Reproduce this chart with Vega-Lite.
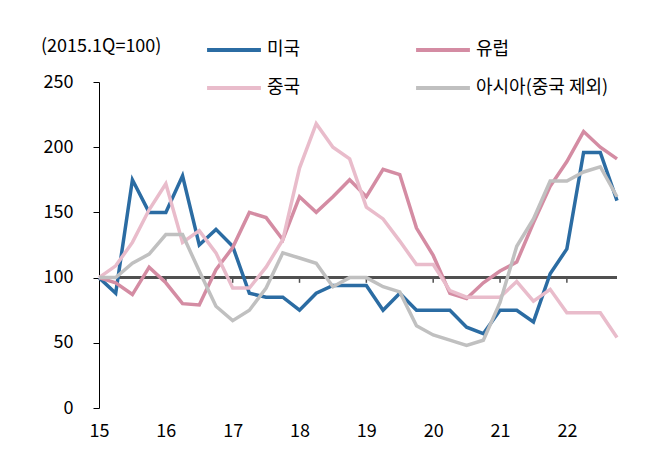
{
  "$schema": "https://vega.github.io/schema/vega-lite/v6.json",
  "width": 518,
  "height": 326,
  "autosize": {"type": "none"},
  "padding": {"left": 99, "top": 82, "right": 31, "bottom": 63},
  "background": "white",
  "config": {
    "font": "Noto Sans CJK KR",
    "view": {"stroke": null},
    "axis": {"labelColor": "#000", "labelFontSize": 18, "grid": false, "labelFont": "Noto Sans CJK KR"}
  },
  "title": {
    "text": "(2015.1Q=100)",
    "anchor": "start",
    "frame": "group",
    "dx": -58,
    "dy": 59,
    "offset": 24,
    "fontSize": 18,
    "fontWeight": "normal",
    "color": "#000",
    "font": "Noto Sans CJK KR"
  },
  "data": {
    "values": [
      {"t": 15.00, "미국": 100, "유럽": 100, "중국": 100, "아시아(중국 제외)": 100},
      {"t": 15.25, "미국": 88, "유럽": 96, "중국": 109, "아시아(중국 제외)": 100},
      {"t": 15.50, "미국": 175, "유럽": 87, "중국": 127, "아시아(중국 제외)": 111},
      {"t": 15.75, "미국": 150, "유럽": 108, "중국": 152, "아시아(중국 제외)": 118},
      {"t": 16.00, "미국": 150, "유럽": 96, "중국": 172, "아시아(중국 제외)": 133},
      {"t": 16.25, "미국": 178, "유럽": 80, "중국": 127, "아시아(중국 제외)": 133},
      {"t": 16.50, "미국": 125, "유럽": 79, "중국": 136, "아시아(중국 제외)": 105},
      {"t": 16.75, "미국": 137, "유럽": 106, "중국": 119, "아시아(중국 제외)": 78},
      {"t": 17.00, "미국": 124, "유럽": 123, "중국": 92, "아시아(중국 제외)": 67},
      {"t": 17.25, "미국": 88, "유럽": 150, "중국": 92, "아시아(중국 제외)": 75},
      {"t": 17.50, "미국": 85, "유럽": 146, "중국": 108, "아시아(중국 제외)": 92},
      {"t": 17.75, "미국": 85, "유럽": 129, "중국": 129, "아시아(중국 제외)": 119},
      {"t": 18.00, "미국": 75, "유럽": 162, "중국": 184, "아시아(중국 제외)": 115},
      {"t": 18.25, "미국": 88, "유럽": 150, "중국": 218, "아시아(중국 제외)": 111},
      {"t": 18.50, "미국": 94, "유럽": 162, "중국": 200, "아시아(중국 제외)": 93},
      {"t": 18.75, "미국": 94, "유럽": 175, "중국": 191, "아시아(중국 제외)": 100},
      {"t": 19.00, "미국": 94, "유럽": 162, "중국": 154, "아시아(중국 제외)": 100},
      {"t": 19.25, "미국": 75, "유럽": 183, "중국": 145, "아시아(중국 제외)": 93},
      {"t": 19.50, "미국": 88, "유럽": 179, "중국": 128, "아시아(중국 제외)": 89},
      {"t": 19.75, "미국": 75, "유럽": 138, "중국": 110, "아시아(중국 제외)": 63},
      {"t": 20.00, "미국": 75, "유럽": 117, "중국": 110, "아시아(중국 제외)": 56},
      {"t": 20.25, "미국": 75, "유럽": 88, "중국": 90, "아시아(중국 제외)": 52},
      {"t": 20.50, "미국": 62, "유럽": 84, "중국": 85, "아시아(중국 제외)": 48},
      {"t": 20.75, "미국": 57, "유럽": 96, "중국": 85, "아시아(중국 제외)": 52},
      {"t": 21.00, "미국": 75, "유럽": 105, "중국": 85, "아시아(중국 제외)": 81},
      {"t": 21.25, "미국": 75, "유럽": 112, "중국": 97, "아시아(중국 제외)": 124},
      {"t": 21.50, "미국": 66, "유럽": 142, "중국": 82, "아시아(중국 제외)": 145},
      {"t": 21.75, "미국": 103, "유럽": 170, "중국": 91, "아시아(중국 제외)": 174},
      {"t": 22.00, "미국": 122, "유럽": 189, "중국": 73, "아시아(중국 제외)": 174},
      {"t": 22.25, "미국": 196, "유럽": 212, "중국": 73, "아시아(중국 제외)": 181},
      {"t": 22.50, "미국": 196, "유럽": 200, "중국": 73, "아시아(중국 제외)": 185},
      {"t": 22.75, "미국": 159, "유럽": 191, "중국": 54, "아시아(중국 제외)": 162}
    ]
  },
  "layer": [
    {
      "mark": {"type": "rule", "color": "#505050", "strokeWidth": 2},
      "encoding": {
        "y": {"datum": 100, "type": "quantitative", "scale": {"domain": [0, 250], "nice": false},
          "axis": {"title": null, "values": [0, 50, 100, 150, 200, 250], "tickSize": 6, "tickColor": "#000", "domainColor": "#000", "labelPadding": 20}}
      }
    },
    {
      "data": {"values": [{"t": 16}, {"t": 17}, {"t": 18}, {"t": 19}, {"t": 20}, {"t": 21}, {"t": 22}]},
      "mark": {"type": "rule", "color": "#505050", "strokeWidth": 1.5},
      "encoding": {
        "x": {"field": "t", "type": "quantitative", "scale": {"domain": [15, 22.75], "nice": false, "zero": false},
          "axis": {"title": null, "values": [15, 16, 17, 18, 19, 20, 21, 22], "format": "d", "ticks": false, "domain": false, "labelPadding": 14, "labelFlush": false}},
        "y": {"datum": 100, "type": "quantitative"},
        "y2": {"datum": 96}
      }
    },
    {
      "transform": [{"fold": ["미국", "유럽", "중국", "아시아(중국 제외)"], "as": ["series", "v"]}],
      "mark": {"type": "line", "strokeWidth": 3.5, "strokeJoin": "miter"},
      "encoding": {
        "x": {"field": "t", "type": "quantitative", "scale": {"domain": [15, 22.75], "nice": false, "zero": false},
          "axis": {"title": null, "values": [15, 16, 17, 18, 19, 20, 21, 22], "format": "d", "ticks": false, "domain": false, "labelPadding": 14, "labelFlush": false}},
        "y": {"field": "v", "type": "quantitative", "scale": {"domain": [0, 250], "nice": false},
          "axis": {"title": null, "values": [0, 50, 100, 150, 200, 250], "tickSize": 6, "tickColor": "#000", "domainColor": "#000", "labelPadding": 20}},
        "color": {
          "field": "series",
          "type": "nominal",
          "scale": {"domain": ["미국", "유럽", "중국", "아시아(중국 제외)"], "range": ["#2b6ca3", "#d48ca3", "#e9bccb", "#c0c0c0"]},
          "legend": {
            "title": null,
            "orient": "none",
            "legendX": 106,
            "legendY": -61,
            "direction": "horizontal",
            "columns": 2,
            "columnPadding": 107,
            "rowPadding": -3,
            "symbolType": "stroke",
            "symbolSize": 2900,
            "symbolStrokeWidth": 4,
            "labelFontSize": 18,
            "labelColor": "#000",
            "labelOffset": 4,
            "labelFont": "Noto Sans CJK KR"
          }
        },
        "order": {"field": "series"}
      }
    }
  ]
}
